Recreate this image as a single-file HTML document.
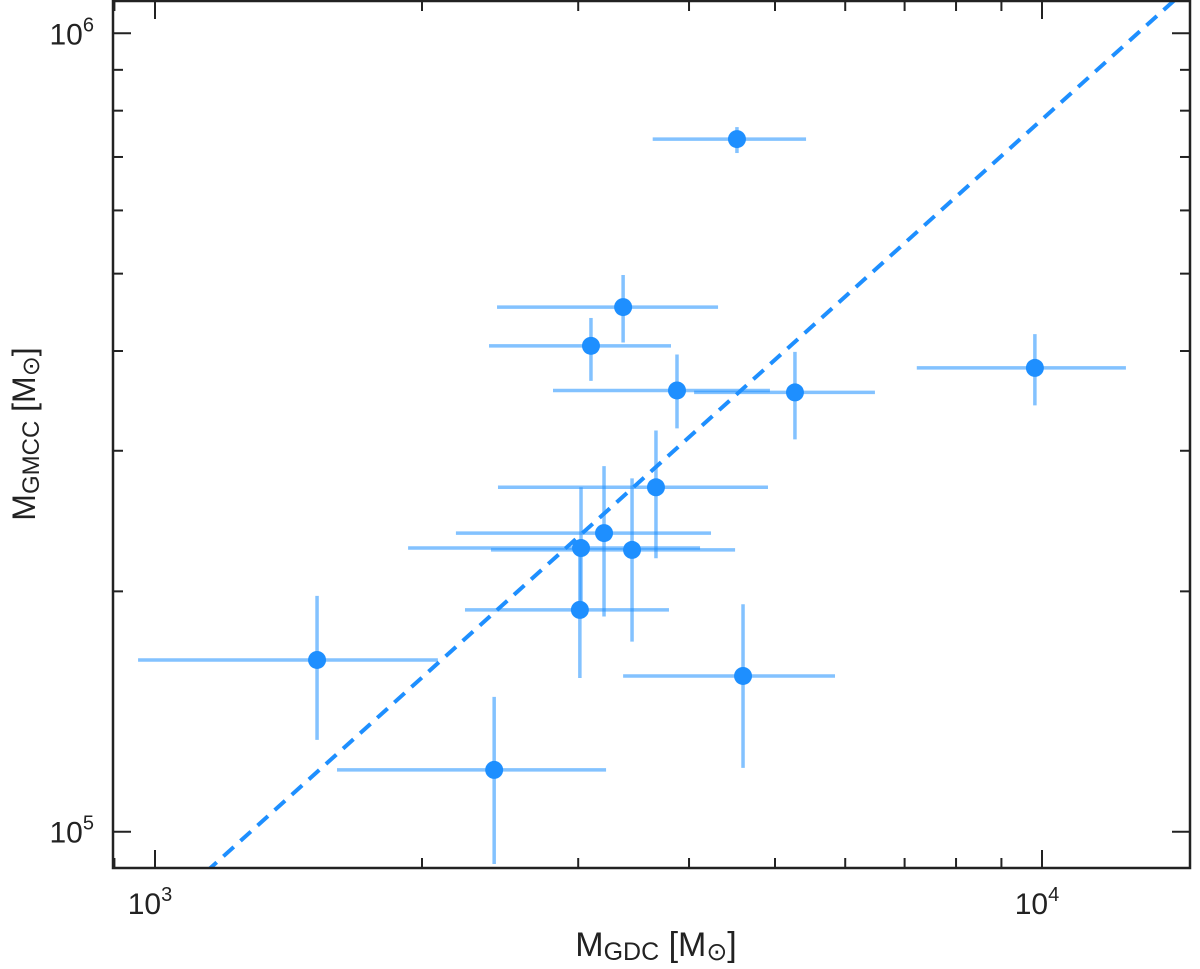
<!DOCTYPE html>
<html><head><meta charset="utf-8"><style>
html,body{margin:0;padding:0;background:#fff;}
svg{display:block;font-family:"Liberation Sans",Arial,sans-serif;}
</style></head><body>
<svg id="chart" width="1200" height="969" viewBox="0 0 1200 969"></svg>
<script>
const xVals=[4530,3371,3101,3877,5266,9817,3671,3208,3022,3450,3013,1523,4602,2412];
const xLo=[3640,2430,2380,2810,4053,7225,2436,2184,1929,2392,2236,957,3371,1604];
const xHi=[5420,4313,3817,4935,6481,12434,4910,4235,4116,4508,3797,2084,5843,3225];
const yVals=[7.37e5,4.54e5,4.06e5,3.57e5,3.55e5,3.81e5,2.70e5,2.366e5,2.266e5,2.254e5,1.896e5,1.641e5,1.567e5,1.195e5];
const yLo=[7.08e5,4.10e5,3.67e5,3.20e5,3.10e5,3.42e5,2.20e5,1.86e5,1.93e5,1.73e5,1.558e5,1.303e5,1.202e5,9.11e4];
const yHi=[7.63e5,4.98e5,4.40e5,3.96e5,3.99e5,4.20e5,3.18e5,2.87e5,2.70e5,2.77e5,2.27e5,1.974e5,1.927e5,1.475e5];
const lineX=[1000,20000];
const lineY=[7.8e4,1.56e6];
const xMajor=[1000,10000];
const xMajorLabels=["3","4"];
const yMajor=[1e5,1e6];
const yMajorLabels=["5","6"];

const L=113,R=1190,T=1,B=868;
const X=v=>155+(Math.log10(v)-3)*887;
const Y=v=>831.7-(Math.log10(v)-5)*798.4;
const NS="http://www.w3.org/2000/svg";
const svg=document.getElementById('chart');
function mk(tag,attrs,parent){const e=document.createElementNS(NS,tag);for(const k in attrs)e.setAttribute(k,attrs[k]);(parent||svg).appendChild(e);return e;}

const defs=mk('defs',{});
const cp=mk('clipPath',{id:'clip'},defs);
mk('rect',{x:L,y:T,width:R-L,height:B-T},cp);
const plot=mk('g',{'clip-path':'url(#clip)'});



const ticks=mk('g',{stroke:'#222','stroke-width':2});


for(let d=2;d<=5;d++)for(let m=1;m<10;m++){
  const v=m*Math.pow(10,d);
  const xp=X(v);
  if(xp>L&&xp<R){const len=m===1?18:10;
    mk('line',{x1:xp,y1:B,x2:xp,y2:B-len},ticks);mk('line',{x1:xp,y1:T,x2:xp,y2:T+len},ticks);}
}
for(let d=4;d<=6;d++)for(let m=1;m<10;m++){
  const v=m*Math.pow(10,d);
  const yp=Y(v);
  if(yp>T&&yp<B){const len=m===1?18:10;
    mk('line',{x1:L,y1:yp,x2:L+len,y2:yp},ticks);mk('line',{x1:R,y1:yp,x2:R-len,y2:yp},ticks);}
}

const dl=mk('line',{x1:X(lineX[0]),y1:Y(lineY[0]),x2:X(lineX[1]),y2:Y(lineY[1]),stroke:'#1e8fff','stroke-width':4,'stroke-dasharray':'14,9'},plot);



for(let i=0;i<xVals.length;i++){
  const g=mk('g',{stroke:'#1e8fff','stroke-opacity':0.55,'stroke-width':3.5},plot);
  
  
  mk('line',{x1:X(xLo[i]),y1:Y(yVals[i]),x2:X(xHi[i]),y2:Y(yVals[i])},g);
  mk('line',{x1:X(xVals[i]),y1:Y(yLo[i]),x2:X(xVals[i]),y2:Y(yHi[i])},g);
}
for(let i=0;i<xVals.length;i++){
  const c=mk('circle',{cx:X(xVals[i]),cy:Y(yVals[i]),r:9,fill:'#1e8fff'},plot);
  
  
}

const fr=mk('rect',{x:L,y:T,width:R-L,height:B-T,fill:'none',stroke:'#222','stroke-width':2.5});



for(let i=0;i<xMajor.length;i++){
  const t=mk('text',{x:X(xMajor[i])-5,y:914,'font-size':30,'text-anchor':'middle',fill:'#222'});
  
  
  t.textContent='10';
  const s=mk('tspan',{dy:-13,'font-size':20},t);s.textContent=xMajorLabels[i];
}
for(let i=0;i<yMajor.length;i++){
  const t=mk('text',{x:94,y:Y(yMajor[i])+11,'font-size':30,'text-anchor':'end',fill:'#222'});
  
  
  t.textContent='10';
  const s=mk('tspan',{dy:-13,'font-size':20},t);s.textContent=yMajorLabels[i];
}
</script>
<svg style="position:absolute;left:0;top:0" width="1200" height="969">
<text x="656" y="956" font-size="34" text-anchor="middle" fill="#222" font-family="Liberation Sans, Arial, sans-serif">M<tspan font-size="25" dy="4">GDC</tspan><tspan dy="-4"> [M</tspan><tspan font-size="25" dy="4">⊙</tspan><tspan dy="-4">]</tspan></text>
<text transform="translate(35,434) rotate(-90)" font-size="32" text-anchor="middle" fill="#222" font-family="Liberation Sans, Arial, sans-serif">M<tspan font-size="24" dy="4">GMCC</tspan><tspan dy="-4"> [M</tspan><tspan font-size="24" dy="4">⊙</tspan><tspan dy="-4">]</tspan></text>
</svg>
</body></html>
